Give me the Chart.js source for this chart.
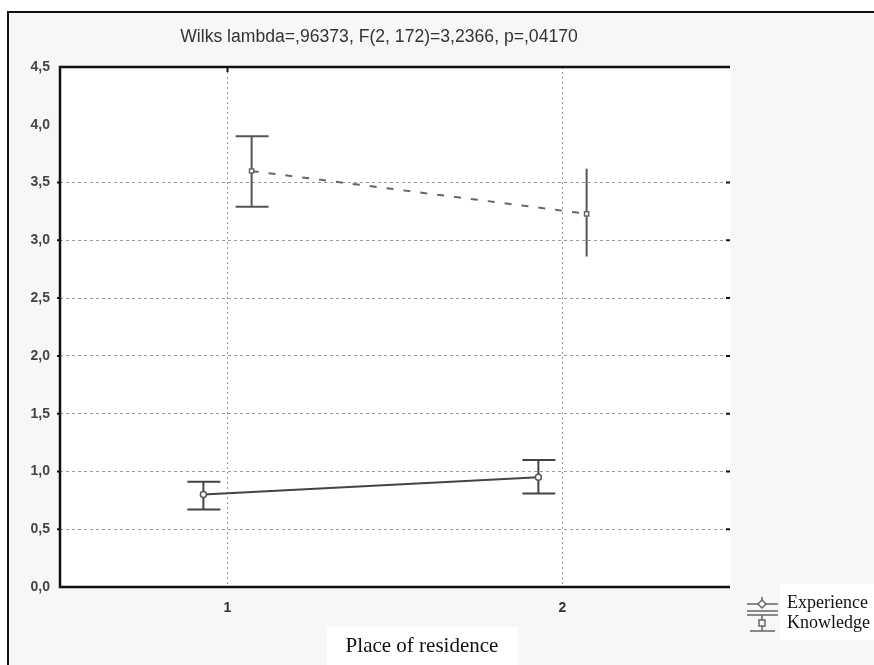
<!DOCTYPE html>
<html>
<head>
<meta charset="utf-8">
<script src="https://cdn.jsdelivr.net/npm/chart.js@4.4.1/dist/chart.umd.min.js"></script>
<style>
    html, body { margin: 0; padding: 0; background: #ffffff; }
    #wrap { position: relative; width: 874px; height: 665px; }
</style>
</head>
<body>
<div id="wrap"><canvas id="meansChart" width="874" height="665"></canvas></div>
<script>
// Data
const categories = [1, 2];
const experienceMean = [3.60, 3.23];
const experienceLow = [3.29, 2.86];
const experienceHigh = [3.90, 3.62];
const knowledgeMean = [0.80, 0.95];
const knowledgeLow = [0.67, 0.81];
const knowledgeHigh = [0.91, 1.10];
const yTicks = [0, 0.5, 1, 1.5, 2, 2.5, 3, 3.5, 4, 4.5];
const gridValues = [0.5, 1, 1.5, 2, 2.5, 3, 3.5];

const titleText = 'Wilks lambda=,96373, F(2, 172)=3,2366, p=,04170';
const xTitleText = 'Place of residence';
const seriesNames = ['Experience', 'Knowledge'];

// small side-by-side shift so the two series don't overlap
const dodge = 0.072;

function toPoints(means, shift) {
    return categories.map((c, i) => ({ x: c + shift, y: means[i] }));
}

const fmt = v => v.toFixed(1).replace('.', ',');

// background, frames, titles, legend
const framePlugin = {
    id: 'frame',
    beforeDraw(chart) {
        const { ctx, chartArea: a } = chart;
        ctx.save();
        ctx.fillStyle = '#ffffff';
        ctx.fillRect(0, 0, chart.width, chart.height);
        ctx.fillStyle = '#f7f7f7';
        ctx.fillRect(8, 12, chart.width - 8, chart.height - 12);
        ctx.fillStyle = '#ffffff';
        ctx.fillRect(a.left, a.top, a.right - a.left, a.bottom - a.top);
        ctx.restore();
    },
    afterDraw(chart) {
        const { ctx, chartArea: a, scales } = chart;
        ctx.save();
        // outer frame
        ctx.strokeStyle = '#111';
        ctx.lineWidth = 2;
        ctx.beginPath();
        ctx.moveTo(8, chart.height);
        ctx.lineTo(8, 12);
        ctx.lineTo(chart.width, 12);
        ctx.stroke();

        // plot frame: top, left, bottom
        ctx.lineWidth = 2.5;
        ctx.beginPath();
        ctx.moveTo(a.right, a.top);
        ctx.lineTo(a.left, a.top);
        ctx.lineTo(a.left, a.bottom);
        ctx.lineTo(a.right, a.bottom);
        ctx.stroke();

        // small ticks at grid lines on both sides
        ctx.lineWidth = 2;
        gridValues.forEach(v => {
            const y = scales.y.getPixelForValue(v);
            ctx.beginPath();
            ctx.moveTo(a.left - 3, y);
            ctx.lineTo(a.left, y);
            ctx.moveTo(a.right - 4, y);
            ctx.lineTo(a.right, y);
            ctx.stroke();
        });
        const x1 = scales.x.getPixelForValue(categories[0]);
        ctx.beginPath();
        ctx.moveTo(x1, a.top);
        ctx.lineTo(x1, a.top + 5);
        ctx.stroke();

        // chart title
        ctx.fillStyle = '#333';
        ctx.font = '17.6px "Liberation Sans", Arial, sans-serif';
        ctx.textAlign = 'center';
        ctx.textBaseline = 'middle';
        ctx.fillText(titleText, 379, 37);

        // x axis title in its white box
        ctx.fillStyle = '#ffffff';
        ctx.fillRect(327, 627, 191, 38);
        ctx.fillStyle = '#111';
        ctx.font = '21px "Liberation Serif", "Times New Roman", serif';
        ctx.fillText(xTitleText, 422, 646);

        // legend
        ctx.fillStyle = '#ffffff';
        ctx.fillRect(780, 584, 94, 56);
        ctx.fillStyle = '#111';
        ctx.font = '18px "Liberation Serif", "Times New Roman", serif';
        ctx.textAlign = 'left';
        ctx.fillText(seriesNames[0], 787, 603);
        ctx.fillText(seriesNames[1], 787, 623);

        ctx.strokeStyle = '#666';
        ctx.lineWidth = 1.5;
        // experience glyph
        ctx.beginPath();
        ctx.moveTo(747, 604); ctx.lineTo(778, 604);
        ctx.moveTo(762, 597); ctx.lineTo(762, 600);
        ctx.stroke();
        ctx.fillStyle = '#ffffff';
        ctx.beginPath();
        ctx.moveTo(762, 600); ctx.lineTo(766, 604); ctx.lineTo(762, 608); ctx.lineTo(758, 604);
        ctx.closePath();
        ctx.fill(); ctx.stroke();
        // knowledge glyph
        ctx.beginPath();
        ctx.moveTo(747, 611); ctx.lineTo(778, 611);
        ctx.moveTo(747, 615); ctx.lineTo(778, 615);
        ctx.moveTo(762, 615); ctx.lineTo(762, 620);
        ctx.moveTo(762, 626); ctx.lineTo(762, 631);
        ctx.moveTo(750, 631); ctx.lineTo(775, 631);
        ctx.stroke();
        ctx.strokeRect(759, 620, 6, 6);
        ctx.restore();
    }
};

// vertical error bars from the low/high arrays
const errorBarPlugin = {
    id: 'errorBars',
    beforeDatasetsDraw(chart) {
        const { ctx, scales } = chart;
        ctx.save();
        chart.data.datasets.forEach(ds => {
            const bars = ds.errorBars;
            if (!bars) return;
            ctx.strokeStyle = bars.color;
            ctx.lineWidth = 2;
            ds.data.forEach((p, i) => {
                const x = scales.x.getPixelForValue(p.x);
                const yl = scales.y.getPixelForValue(bars.low[i]);
                const yh = scales.y.getPixelForValue(bars.high[i]);
                ctx.beginPath();
                ctx.moveTo(x, yl);
                ctx.lineTo(x, yh);
                if (bars.caps[i]) {
                    ctx.moveTo(x - 16, yl);
                    ctx.lineTo(x + 17, yl);
                    ctx.moveTo(x - 16, yh);
                    ctx.lineTo(x + 17, yh);
                }
                ctx.stroke();
            });
        });
        ctx.restore();
    }
};

const tickFont = { family: '"Liberation Sans", Arial, sans-serif', size: 14, weight: 'bold' };

const ctx = document.getElementById('meansChart').getContext('2d');
new Chart(ctx, {
    type: 'line',
    data: {
        datasets: [
            {
                label: seriesNames[0],
                data: toPoints(experienceMean, dodge),
                borderColor: '#666',
                borderWidth: 2,
                borderDash: [7, 10],
                pointStyle: 'rect',
                pointRadius: 3,
                pointBorderWidth: 1.5,
                pointBorderColor: '#666',
                pointBackgroundColor: '#ffffff',
                errorBars: { low: experienceLow, high: experienceHigh, caps: [true, false], color: '#555' }
            },
            {
                label: seriesNames[1],
                data: toPoints(knowledgeMean, -dodge),
                borderColor: '#444',
                borderWidth: 2,
                pointStyle: 'circle',
                pointRadius: 3,
                pointBorderWidth: 1.5,
                pointBorderColor: '#555',
                pointBackgroundColor: '#ffffff',
                errorBars: { low: knowledgeLow, high: knowledgeHigh, caps: [true, true], color: '#444' }
            }
        ]
    },
    options: {
        responsive: false,
        animation: false,
        layout: { padding: { top: 67, right: 144, left: 0, bottom: 0 } },
        plugins: {
            legend: { display: false },
            tooltip: { enabled: false }
        },
        scales: {
            x: {
                type: 'linear',
                min: 0.5,
                max: 2.5,
                afterBuildTicks: scale => {
                    scale.ticks = categories.map(v => ({ value: v }));
                },
                afterFit: scale => { scale.height = 78; },
                border: { display: false, dash: [2, 3] },
                grid: { drawTicks: false, color: '#999', lineWidth: 1 },
                ticks: { padding: 13, color: '#333', font: tickFont }
            },
            y: {
                min: 0,
                max: 4.5,
                afterBuildTicks: scale => {
                    scale.ticks = yTicks.map(v => ({ value: v }));
                },
                afterFit: scale => { scale.width = 60; },
                border: { display: false, dash: [3, 3] },
                grid: {
                    drawTicks: false,
                    color: c => gridValues.includes(c.tick.value) ? '#999' : 'rgba(0,0,0,0)',
                    lineWidth: 1
                },
                ticks: { padding: 10, color: '#444', callback: v => fmt(v), font: tickFont }
            }
        }
    },
    plugins: [framePlugin, errorBarPlugin]
});
</script>
</body>
</html>
